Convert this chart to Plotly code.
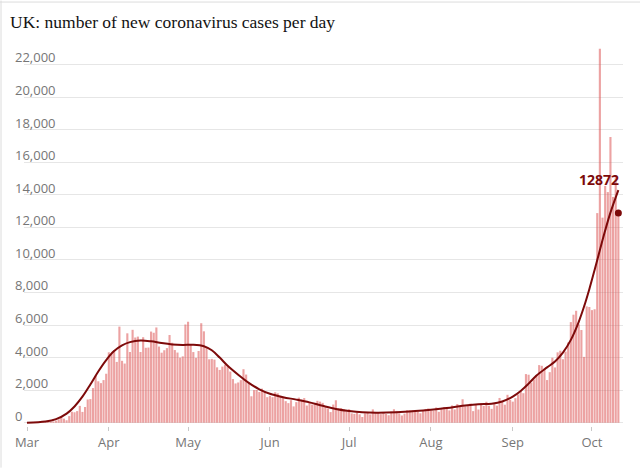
import plotly.graph_objects as go
import pandas as pd

# ---------------- data ----------------
start_date = "2020-03-01"
cases_mar = [13, 4, 11, 34, 29, 48, 43, 67, 48, 52, 83, 134, 208, 342, 251, 152, 407, 676, 643, 714,
             1035, 665, 967, 1427, 1452, 2129, 2885, 2546, 2433, 2619, 3009]
cases_apr = [4324, 4244, 4450, 3735, 5903, 3802, 3634, 5491, 4344, 5706, 5234, 5288, 4342, 5252, 4603,
             4617, 5599, 5525, 5850, 4676, 4301, 4451, 4583, 5386, 4913, 4463, 4309, 3996, 4076, 6032]
cases_may = [6201, 4806, 4339, 3985, 4406, 6111, 5614, 4649, 3896, 3923, 3877, 3403, 3242, 3446, 3560,
             3451, 3142, 2684, 2412, 2472, 2615, 3287, 2959, 2409, 1625, 2004, 2013, 1887, 2095, 1936, 1570]
cases_jun = [1653, 1571, 1871, 1805, 1650, 1557, 1326, 1205, 1387, 1003, 1266, 1541, 1425, 1514, 1056,
             1279, 1115, 1218, 1346, 1295, 1221, 958, 874, 653, 1118, 1380, 890, 901, 815, 689]
cases_jul = [829, 576, 544, 624, 516, 352, 581, 630, 512, 820, 642, 650, 530, 598, 538, 463, 687, 827,
             726, 580, 445, 560, 769, 768, 767, 747, 685, 581, 763, 846, 880]
cases_aug = [743, 744, 938, 670, 892, 950, 871, 758, 1062, 816, 1148, 1009, 1441, 1012, 1040, 1182, 713,
             1089, 812, 1182, 1033, 1288, 1041, 853, 1184, 1048, 1522, 1276, 1108, 1715, 1406]
cases_sep = [1295, 1508, 1735, 1940, 1813, 2988, 2948, 2460, 2659, 2919, 3539, 3497, 3330, 2621, 3105,
             3991, 3395, 4322, 4422, 3899, 4368, 4926, 6178, 6634, 6874, 6042, 5693, 4044, 7143, 7108]
cases_oct = [6914, 6968, 12872, 22961, 12594, 14542, 14162, 17540, 13864, 15166, 12872]

trend_dates = ["2020-03-01", "2020-03-08", "2020-03-12", "2020-03-16", "2020-03-19", "2020-03-22",
               "2020-03-25", "2020-03-28", "2020-03-31", "2020-04-03", "2020-04-06", "2020-04-09",
               "2020-04-13", "2020-04-17", "2020-04-21", "2020-04-25", "2020-04-29", "2020-05-03",
               "2020-05-07", "2020-05-10", "2020-05-13", "2020-05-16", "2020-05-20", "2020-05-24",
               "2020-05-28", "2020-06-01", "2020-06-06", "2020-06-11", "2020-06-16", "2020-06-21",
               "2020-06-26", "2020-07-01", "2020-07-06", "2020-07-12", "2020-07-19", "2020-07-26",
               "2020-08-01", "2020-08-07", "2020-08-13", "2020-08-19", "2020-08-24", "2020-08-28",
               "2020-09-01", "2020-09-04", "2020-09-07", "2020-09-10", "2020-09-14", "2020-09-17",
               "2020-09-20", "2020-09-23", "2020-09-26", "2020-09-28", "2020-09-30", "2020-10-02",
               "2020-10-04", "2020-10-06", "2020-10-08", "2020-10-11"]
trend_values = [0, 70, 220, 560, 1000, 1600, 2350, 3150, 3850, 4400, 4750, 4950, 5050, 5000, 4890,
                4810, 4780, 4790, 4700, 4450, 4000, 3500, 2950, 2450, 2050, 1780, 1570, 1420, 1250,
                1040, 850, 720, 640, 620, 650, 720, 800, 900, 1040, 1130, 1170, 1300, 1600, 1950,
                2400, 2900, 3400, 3760, 4300, 5090, 6200, 7130, 8200, 9380, 10600, 11800, 12900, 14280]

month_ticks = ["2020-03-01", "2020-04-01", "2020-05-01", "2020-06-01", "2020-07-01",
               "2020-08-01", "2020-09-01", "2020-10-01"]
month_labels = ["Mar", "Apr", "May", "Jun", "Jul", "Aug", "Sep", "Oct"]
y_ticks = list(range(0, 22001, 2000))
y_labels = ["0", "2,000", "4,000", "6,000", "8,000", "10,000", "12,000", "14,000", "16,000",
            "18,000", "20,000", "22,000"]

cases = cases_mar + cases_apr + cases_may + cases_jun + cases_jul + cases_aug + cases_sep + cases_oct
dates = pd.date_range(start_date, periods=len(cases), freq="D")

# ---------------- layout geometry ----------------
W, H = 640, 468
L, R = 24, 17
px_per_day = 2.64
y_lo, y_hi = -200, 23500
px_per_unit = 359 / 22000
zero_px = 423
bottom_px = zero_px + (0 - y_lo) * px_per_unit
top_px = bottom_px - (y_hi - y_lo) * px_per_unit
T = top_px
B = H - bottom_px
plot_w = W - L - R
plot_h = bottom_px - top_px

x0 = pd.Timestamp(start_date) - pd.Timedelta(days=(27 - L) / px_per_day)
x1 = x0 + pd.Timedelta(days=plot_w / px_per_day)

DARK = "#7d0a0a"
GREY = "#767676"
SANS = "Open Sans"

fig = go.Figure()
fig.add_trace(go.Bar(x=dates, y=cases, marker=dict(color="rgba(220,85,85,0.55)", line=dict(width=0)),
                     hoverinfo="x+y", showlegend=False))
fig.add_trace(go.Scatter(x=pd.to_datetime(trend_dates), y=trend_values, mode="lines",
                         line=dict(color=DARK, width=2, shape="spline", smoothing=1.0),
                         showlegend=False, hoverinfo="skip", cliponaxis=False))
fig.add_trace(go.Scatter(x=[dates[-1]], y=[cases[-1]], mode="markers",
                         marker=dict(color=DARK, size=7), showlegend=False, cliponaxis=False))

annotations = []
for v, t in zip(y_ticks, y_labels):
    annotations.append(dict(x=(13 - L) / plot_w, xref="paper", y=v, yref="y", text=t,
                            showarrow=False, xanchor="left", yanchor="middle", yshift=7,
                            font=dict(family=SANS, size=13, color=GREY)))
annotations.append(dict(x=dates[-1], y=trend_values[-1], xref="x", yref="y", text="<b>%d</b>" % cases[-1],
                        showarrow=False, xanchor="right", yanchor="bottom", xshift=3, yshift=-1,
                        font=dict(family=SANS, size=14, color=DARK)))

def px_to_paper_x(px):
    return (px - L) / plot_w

def px_to_paper_y(py):
    return (bottom_px - py) / plot_h

shapes = [
    dict(type="line", xref="paper", yref="paper", x0=px_to_paper_x(0), x1=px_to_paper_x(W),
         y0=px_to_paper_y(1.5), y1=px_to_paper_y(1.5), line=dict(color="#dcdcdc", width=1)),
    dict(type="line", xref="paper", yref="paper", x0=px_to_paper_x(1), x1=px_to_paper_x(1),
         y0=px_to_paper_y(0), y1=px_to_paper_y(H), line=dict(color="#dcdcdc", width=1)),
]

fig.update_layout(
    width=W, height=H,
    margin=dict(l=L, r=R, t=T, b=B, pad=0),
    paper_bgcolor="white", plot_bgcolor="white",
    bargap=0.2,
    title=dict(text="UK: number of new coronavirus cases per day", x=10 / W, xref="container",
               xanchor="left", y=1 - 21.5 / H, yref="container", yanchor="middle",
               font=dict(family="Liberation Serif", size=17.5, color="#121212")),
    xaxis=dict(range=[x0, x1], tickvals=pd.to_datetime(month_ticks), ticktext=month_labels,
               showgrid=False, zeroline=False, showline=False, ticks="outside", ticklen=4,
               tickcolor="#c8c8c8", tickfont=dict(family=SANS, size=13, color=GREY)),
    yaxis=dict(range=[y_lo, y_hi], tickvals=y_ticks, showticklabels=False, showgrid=True,
               gridcolor="#e6e6e6", gridwidth=1, zeroline=False, showline=False),
    annotations=annotations,
    shapes=shapes,
    font=dict(family=SANS),
)

fig.write_html("out.html")
